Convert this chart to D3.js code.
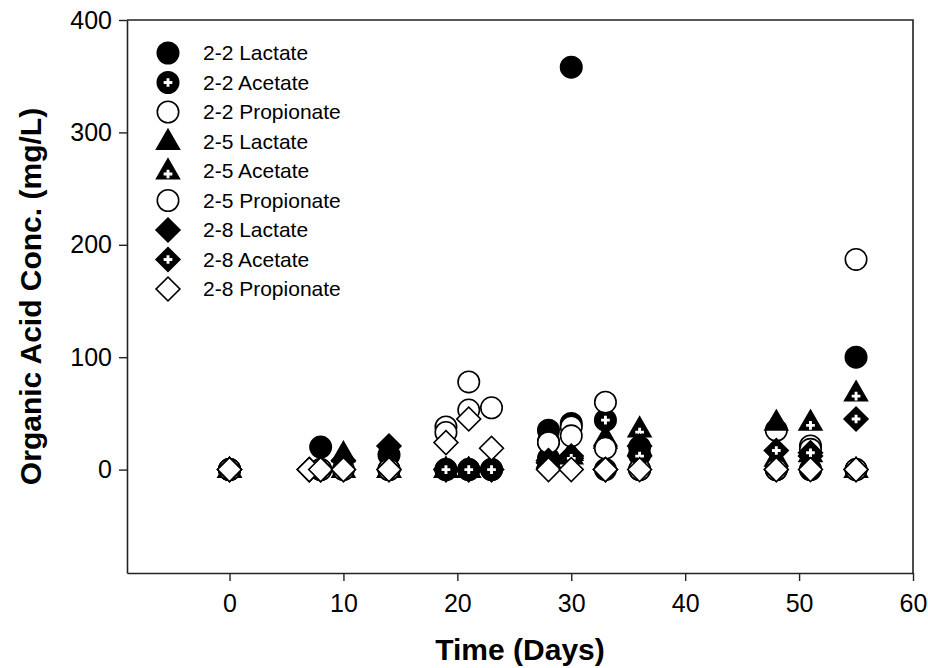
<!DOCTYPE html>
<html>
<head>
<meta charset="utf-8">
<script src="https://cdn.jsdelivr.net/npm/d3@7"></script>
<style>
 body { margin: 0; background: #fff; }
 svg { font-family: "Liberation Sans", Arial, sans-serif; }
</style>
</head>
<body>
<svg width="928" height="668"></svg>
<script>
// Data (days, mg/L)
var xTicks = [0, 10, 20, 30, 40, 50, 60];
var yTicks = [0, 100, 200, 300, 400];

var days22 = [0, 8, 14, 19, 21, 23, 28, 30, 33, 36, 48, 51, 55];
var lac22 = [0, 20, 13, 0, 0, 0, 35, 358, 0, 20, 0, 0, 100];
var ace22 = [0, 0, 0, 0, 0, 0, 10, 41, 44, 13, 0, 0, 0];
var pro22 = [0, 0, 0, 38, 78, 55, 25, 38, 60, 0, 35, 21, 187];

var days25 = [0, 10, 14, 19, 21, 28, 30, 33, 36, 48, 51, 55];
var lac25 = [0, 14, 0, 0, 0, 8, 12, 28, 20, 42, 14, 0];
var ace25 = [0, 0, 0, 0, 0, 9, 15, 26, 36, 10, 42, 68];
var pro25 = [0, 0, 0, 33, 53, 24, 30, 19, 0, 0, 18, 0];

var days28 = [0, 7, 8, 10, 14, 19, 21, 23, 28, 30, 33, 36, 48, 51, 55];
var lac28 = [0, 0, 0, 8, 21, 0, 0, 0, 8, 12, 0, 21, 0, 12, 0];
var ace28 = [0, 0, 0, 0, 0, 0, 0, 0, 6, 10, 0, 12, 17, 15, 45];
var pro28 = [0, 0, 0, 0, 0, 24, 45, 19, 0, 0, 0, 0, 0, 0, 0];

var seriesNames = ["2-2 Lactate", "2-2 Acetate", "2-2 Propionate",
 "2-5 Lactate", "2-5 Acetate", "2-5 Propionate",
 "2-8 Lactate", "2-8 Acetate", "2-8 Propionate"];
var seriesDays = [days22, days22, days22, days25, days25, days25, days28, days28, days28];
var seriesVals = [lac22, ace22, pro22, lac25, ace25, pro25, lac28, ace28, pro28];
var shapes = ["circle", "circle", "circle", "triangle", "triangle", "circle", "diamond", "diamond", "diamond"];
var kinds = ["filled", "cross", "open", "filled", "cross", "open", "filled", "cross", "open"];

var svg = d3.select("svg"),
 margin = {top: 20, right: 15, bottom: 95, left: 127},
 width = +svg.attr("width") - margin.left - margin.right,
 height = +svg.attr("height") - margin.top - margin.bottom;

var x = d3.scaleLinear().domain([-9, 60]).range([0, width]);
var y = d3.scaleLinear().domain([-92, 400]).range([height, 0]);

var g = svg.append("g")
 .attr("transform", "translate(" + margin.left + "," + margin.top + ")");

var axisColor = "#222";

// frame (top and right)
g.append("path")
 .attr("d", "M0,0H" + width + "V" + height)
 .attr("fill", "none")
 .attr("stroke", axisColor)
 .attr("stroke-width", 1.6);

var xAxis = g.append("g")
 .attr("transform", "translate(0," + height + ")")
 .call(d3.axisBottom(x).tickValues(xTicks).tickSize(8).tickPadding(13).tickSizeOuter(0));

var yAxis = g.append("g")
 .call(d3.axisLeft(y).tickValues(yTicks).tickSize(8).tickPadding(7).tickSizeOuter(0));

[xAxis, yAxis].forEach(function(a) {
 a.select(".domain").attr("stroke", axisColor).attr("stroke-width", 1.6);
 a.selectAll(".tick line").attr("stroke", axisColor).attr("stroke-width", 1.4);
 a.selectAll(".tick text")
  .attr("font-family", "Liberation Sans, Arial, sans-serif")
  .attr("font-size", "25px")
  .attr("fill", "#000");
});

// symbols
var symSize = {circle: 360, triangle: 225, diamond: 285};
function symPath(shape) {
 if (shape == "circle") return d3.symbol(d3.symbolCircle, symSize.circle)();
 if (shape == "triangle") return d3.symbol(d3.symbolTriangle, symSize.triangle)();
 return d3.symbol(d3.symbolSquare, symSize.diamond)();
}
var crossPath = d3.symbol(d3.symbolCross, 42)();

function drawMarker(sel, shape, kind) {
 sel.append("path")
  .attr("d", symPath(shape))
  .attr("transform", shape == "diamond" ? "rotate(45)" : (shape == "triangle" ? "translate(0,1)" : null))
  .attr("fill", kind == "open" ? "#fff" : "#000")
  .attr("stroke", "#000")
  .attr("stroke-width", 1.6);
 if (kind == "cross") {
  sel.append("path")
   .attr("d", crossPath)
   .attr("transform", shape == "triangle" ? "translate(0,3)" : null)
   .attr("fill", "#fff");
 }
}

var plot = g.append("g");
seriesNames.forEach(function(name, i) {
 var pts = seriesDays[i].map(function(d, j) { return {day: d, val: seriesVals[i][j]}; });
 plot.selectAll(".s" + i)
  .data(pts)
  .enter()
  .append("g")
  .attr("class", "s" + i)
  .attr("transform", function(d) { return "translate(" + x(d.day) + "," + y(d.val) + ")"; })
  .each(function() { drawMarker(d3.select(this), shapes[i], kinds[i]); });
});

// legend
var legend = g.append("g").attr("transform", "translate(41,33)");
seriesNames.forEach(function(name, i) {
 var row = legend.append("g").attr("transform", "translate(0," + (i * 29.5) + ")");
 drawMarker(row, shapes[i], kinds[i]);
 row.append("text")
  .text(name)
  .attr("x", 35)
  .attr("y", 7)
  .attr("font-size", "21px")
  .attr("fill", "#000");
});

// axis titles
svg.append("text")
 .text("Time (Days)")
 .attr("x", margin.left + width / 2)
 .attr("y", 660)
 .attr("text-anchor", "middle")
 .attr("font-weight", "bold")
 .attr("font-size", "30px");

svg.append("text")
 .text("Organic Acid Conc. (mg/L)")
 .attr("transform", "translate(41," + (margin.top + height / 2) + ") rotate(-90)")
 .attr("text-anchor", "middle")
 .attr("font-weight", "bold")
 .attr("font-size", "30px");
</script>
</body>
</html>
